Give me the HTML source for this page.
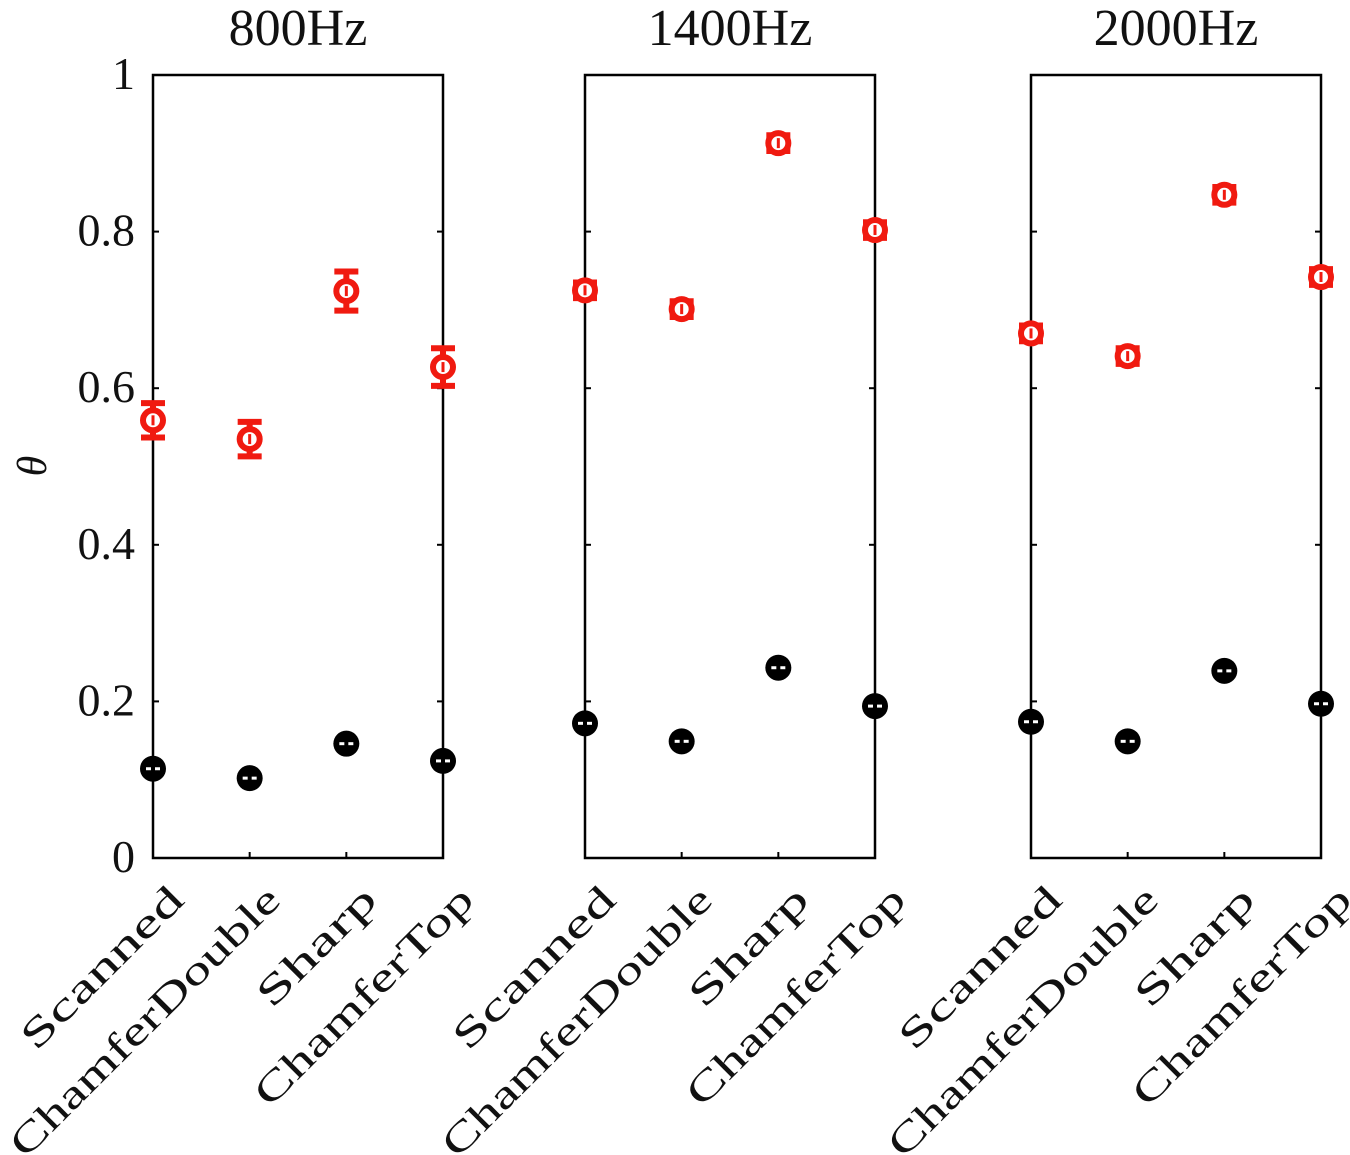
<!DOCTYPE html>
<html><head><meta charset="utf-8"><style>
html,body{margin:0;padding:0;background:#fff;}
svg{display:block;font-family:"Liberation Serif",serif;}
</style></head><body>
<svg id="chart" width="1350" height="1155" viewBox="0 0 1350 1155" xmlns="http://www.w3.org/2000/svg"></svg>
<script>
const panelTitles = ["800Hz","1400Hz","2000Hz"];
const categories = ["Scanned","ChamferDouble","Sharp","ChamferTop"];
const redValues = [[0.559,0.535,0.724,0.627],[0.725,0.701,0.913,0.802],[0.670,0.641,0.847,0.742]];
const redErrors = [[0.022,0.022,0.025,0.024],[0.010,0.010,0.010,0.010],[0.010,0.010,0.010,0.010]];
const blackValues = [[0.114,0.102,0.146,0.124],[0.172,0.149,0.243,0.194],[0.174,0.149,0.239,0.197]];
const yTicks = [0,0.2,0.4,0.6,0.8,1];
const yTickLabels = ["0","0.2","0.4","0.6","0.8","1"];

const NS="http://www.w3.org/2000/svg";
const svg=document.getElementById('chart');
const panelLeft=[153,585,1031], panelW=290, topY=75, bottomY=858;
const labelLen={"Scanned":212,"ChamferDouble":364,"Sharp":152,"ChamferTop":292};
function yScale(v){return bottomY-v*(bottomY-topY);}
function xScale(p,i){return panelLeft[p]+i*panelW/(categories.length-1);}
function mk(tag,attrs,parent){const e=document.createElementNS(NS,tag);for(const k in attrs)e.setAttribute(k,attrs[k]);(parent||svg).appendChild(e);return e;}

yTicks.forEach((t,i)=>{
  const tx=mk('text',{x:135,y:yScale(t)+14,'text-anchor':'end','font-size':46,fill:'#111'});
  tx.textContent=yTickLabels[i];
  
  
});
const yl=mk('text',{x:0,y:0,transform:'translate(46,466) rotate(-90)','text-anchor':'middle','font-size':42,'font-style':'italic',fill:'#111'});
yl.textContent='θ';



panelTitles.forEach((title,p)=>{
  const g=mk('g',{});
  
  
  const L=panelLeft[p], R=L+panelW;
  const tt=mk('text',{x:L+145,y:45,'text-anchor':'middle','font-size':52,fill:'#111'},g);
  tt.textContent=title;
  
  
  const fr=mk('rect',{x:L,y:topY,width:panelW,height:bottomY-topY,fill:'none',stroke:'#000','stroke-width':2.5},g);
  
  
  yTicks.forEach(t=>{
    mk('line',{x1:L,x2:L+6,y1:yScale(t),y2:yScale(t),stroke:'#000','stroke-width':2},g);
    mk('line',{x1:R,x2:R-6,y1:yScale(t),y2:yScale(t),stroke:'#000','stroke-width':2},g);
  });
  categories.forEach((c,i)=>{
    const cx=xScale(p,i);
    mk('line',{x1:cx,x2:cx,y1:bottomY,y2:bottomY-6,stroke:'#000','stroke-width':2},g);
    const lb=mk('text',{x:0,y:0,transform:`translate(${cx+33},${bottomY+44}) rotate(-45)`,'text-anchor':'end','font-size':40,fill:'#111',textLength:labelLen[c],lengthAdjust:'spacingAndGlyphs'},g);
    lb.textContent=c;
    
    
    const by=yScale(blackValues[p][i]);
    const bc=mk('circle',{cx:cx,cy:by,r:13,fill:'#000'},g);
    
    
    mk('line',{x1:cx-7,x2:cx-2,y1:by,y2:by,stroke:'#fff','stroke-width':3},g);
    mk('line',{x1:cx+2,x2:cx+7,y1:by,y2:by,stroke:'#fff','stroke-width':3},g);
    const ry=yScale(redValues[p][i]), e=redErrors[p][i]*(bottomY-topY);
    const eb=mk('path',{d:`M${cx},${ry-e}V${ry+e}M${cx-12},${ry-e}H${cx+12}M${cx-12},${ry+e}H${cx+12}`,stroke:'#f01a10','stroke-width':6,fill:'none'},g);
    
    
    const rc=mk('circle',{cx:cx,cy:ry,r:10,fill:'#fff',stroke:'#f01a10','stroke-width':6},g);
    
    
    mk('line',{x1:cx,x2:cx,y1:ry-5,y2:ry+5,stroke:'#f01a10','stroke-width':3},g);
  });
});
</script>
</body></html>
